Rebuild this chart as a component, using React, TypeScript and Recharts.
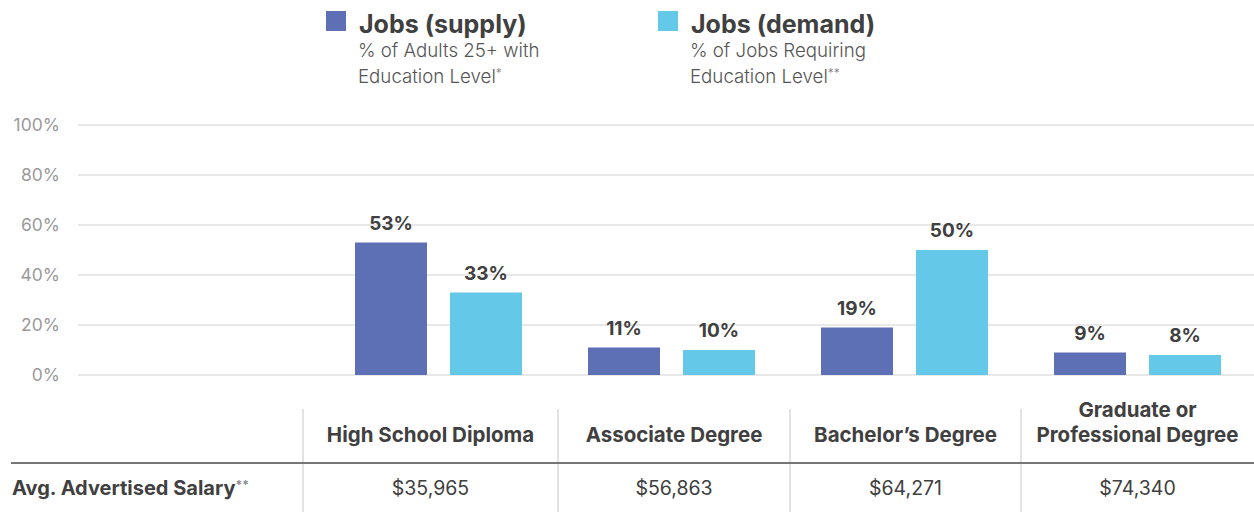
import React from "react";
import { BarChart, Bar, XAxis, YAxis, CartesianGrid, LabelList } from "recharts";

const categories = ["High School Diploma", "Associate Degree", "Bachelor’s Degree", "Graduate or Professional Degree"];
const headerLines = [["High School Diploma"], ["Associate Degree"], ["Bachelor’s Degree"], ["Graduate or", "Professional Degree"]];
const supply = [53, 11, 19, 9];
const demand = [33, 10, 50, 8];
const salaries = ["$35,965", "$56,863", "$64,271", "$74,340"];
const yTicks = [0, 20, 40, 60, 80, 100];
const columnEdges = [303, 558, 790, 1021, 1254];

const data = categories.map((c, i) => ({ category: c, supply: supply[i], demand: demand[i] }));

const FONT = "Inter, Roboto, 'Noto Sans', sans-serif";
const DARK = "#404040";
const SUPPLY = "#5E70B5";
const DEMAND = "#64C8E8";

const pct = (v: any) => `${v}%`;

export default function App() {
  return (
    <div style={{ position: "absolute", left: 0, top: 0, width: 1254, height: 512, background: "#fff", fontFamily: FONT }}>
      <BarChart width={1254} height={400} data={data} margin={{ top: 125, right: 0, bottom: 25, left: 0 }} barGap={23}>
        <CartesianGrid vertical={false} stroke="#e0e0e0" strokeWidth={1.5} />
        <XAxis dataKey="category" hide padding={{ left: 244, right: 0 }} />
        <YAxis
          width={78}
          domain={[0, 100]}
          ticks={yTicks}
          tickFormatter={pct}
          axisLine={false}
          tickLine={false}
          tickMargin={12}
          tick={{ fill: "#9a9a9a", fontSize: 17.5, fontFamily: FONT }}
        />
        <Bar dataKey="supply" fill={SUPPLY} barSize={72} isAnimationActive={false}>
          <LabelList dataKey="supply" position="top" offset={13} formatter={pct} fill={DARK} fontSize={19} fontWeight={700} fontFamily={FONT} />
        </Bar>
        <Bar dataKey="demand" fill={DEMAND} barSize={72} isAnimationActive={false}>
          <LabelList dataKey="demand" position="top" offset={13} formatter={pct} fill={DARK} fontSize={19} fontWeight={700} fontFamily={FONT} />
        </Bar>
      </BarChart>
      <svg width={1254} height={512} style={{ position: "absolute", left: 0, top: 0, pointerEvents: "none" }} fontFamily={FONT}>
        {/* legend */}
        <rect x={326} y={11} width={20} height={20} fill={SUPPLY} />
        <text x={359} y={33} fontSize={25} fontWeight={700} fill={DARK}>Jobs (supply)</text>
        <text x={358} y={57} fontSize={18.7} fontWeight={300} fill="#555">% of Adults 25+ with</text>
        <text x={358} y={83} fontSize={18.7} fontWeight={300} fill="#555">
          Education Level<tspan fontSize={12} dy={-6} fill="#777">*</tspan>
        </text>
        <rect x={658} y={11} width={20} height={20} fill={DEMAND} />
        <text x={691} y={33} fontSize={25} fontWeight={700} fill={DARK}>Jobs (demand)</text>
        <text x={690} y={57} fontSize={18.7} fontWeight={300} fill="#555">% of Jobs Requiring</text>
        <text x={690} y={83} fontSize={18.7} fontWeight={300} fill="#555">
          Education Level<tspan fontSize={12} dy={-6} fill="#777">**</tspan>
        </text>

        {/* table */}
        {columnEdges.slice(0, 4).map((x) => (
          <line key={x} x1={x} x2={x} y1={409} y2={512} stroke="#e3e3e3" strokeWidth={2} />
        ))}
        <line x1={11} x2={1254} y1={463} y2={463} stroke="#777" strokeWidth={2} />
        {headerLines.map((lines, i) => {
          const cx = (columnEdges[i] + columnEdges[i + 1]) / 2;
          const start = 442 - (lines.length - 1) * 25;
          return lines.map((ln, j) => (
            <text key={`${i}-${j}`} x={cx} y={start + j * 25} textAnchor="middle" fontSize={20.5} fontWeight={700} fill={DARK}>
              {ln}
            </text>
          ));
        })}
        <text x={12} y={495} fontSize={20} fontWeight={700} fill={DARK}>
          Avg. Advertised Salary<tspan fontSize={12} dy={-6} fill="#888">**</tspan>
        </text>
        {salaries.map((s, i) => (
          <text key={s} x={(columnEdges[i] + columnEdges[i + 1]) / 2} y={495} textAnchor="middle" fontSize={19.5} fill={DARK}>
            {s}
          </text>
        ))}
      </svg>
    </div>
  );
}
